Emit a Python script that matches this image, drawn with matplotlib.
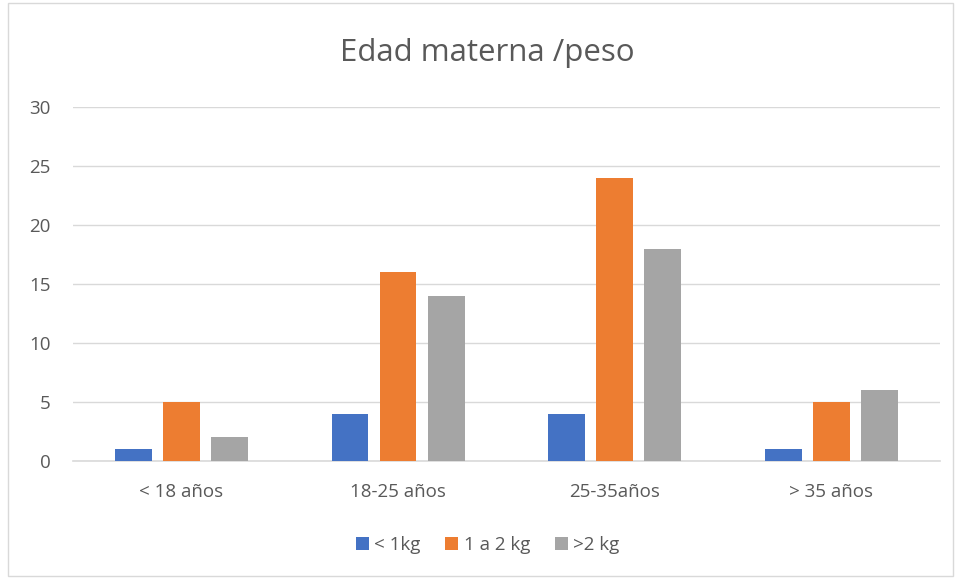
import numpy as np
import matplotlib.pyplot as plt
from matplotlib.patches import Rectangle

plt.rcParams['font.family'] = ['Open Sans', 'DejaVu Sans']

# Datos
categorias = ['< 18 años', '18-25 años', '25-35años', '> 35 años']
menos_1kg = [1, 4, 4, 1]
de_1_a_2kg = [5, 16, 24, 5]
mas_2kg = [2, 14, 18, 6]
series = ['< 1kg', '1 a 2 kg', '>2 kg']
colores = ['#4472C4', '#ED7D31', '#A5A5A5']

fig = plt.figure(figsize=(9.56, 5.79), dpi=100)
ax = fig.add_axes([0.0764, 0.2038, 0.9066, 0.6112])

x = np.arange(len(categorias))
ancho = 0.17
paso = 0.222
for i, (vals, nombre, c) in enumerate(zip([menos_1kg, de_1_a_2kg, mas_2kg], series, colores)):
    ax.bar(x + (i - 1) * paso, vals, ancho, color=c, label=nombre, zorder=3)

ax.set_xlim(-0.5, len(categorias) - 0.5)
ax.set_ylim(0, 30)
ax.set_yticks(range(0, 31, 5))
ax.set_xticks(x)
ax.set_xticklabels(categorias)
ax.tick_params(axis='both', length=0, labelsize=13.5, colors='#595959')
ax.tick_params(axis='x', pad=16)
ax.tick_params(axis='y', pad=16)
ax.grid(axis='y', color='#D9D9D9', linewidth=1, zorder=0)
for s in ['top', 'right', 'left']:
    ax.spines[s].set_visible(False)
ax.spines['bottom'].set_color('#D9D9D9')
ax.spines['bottom'].set_linewidth(1.2)

fig.text(0.51, 0.908, 'Edad materna /peso', ha='center', va='center',
         fontsize=22.5, color='#595959')

fig.legend(loc='center', bbox_to_anchor=(0.51, 0.058), ncol=3, frameon=False,
           fontsize=13.5, handlelength=0.7, handleheight=0.7, columnspacing=1.3,
           handletextpad=0.3, labelcolor='#595959')

fig.patches.append(Rectangle((8 / 956, 3 / 579), 945 / 956, 573 / 579,
                             transform=fig.transFigure, fill=False,
                             edgecolor='#D9D9D9', linewidth=1))

fig.savefig('out.png', dpi=100)
